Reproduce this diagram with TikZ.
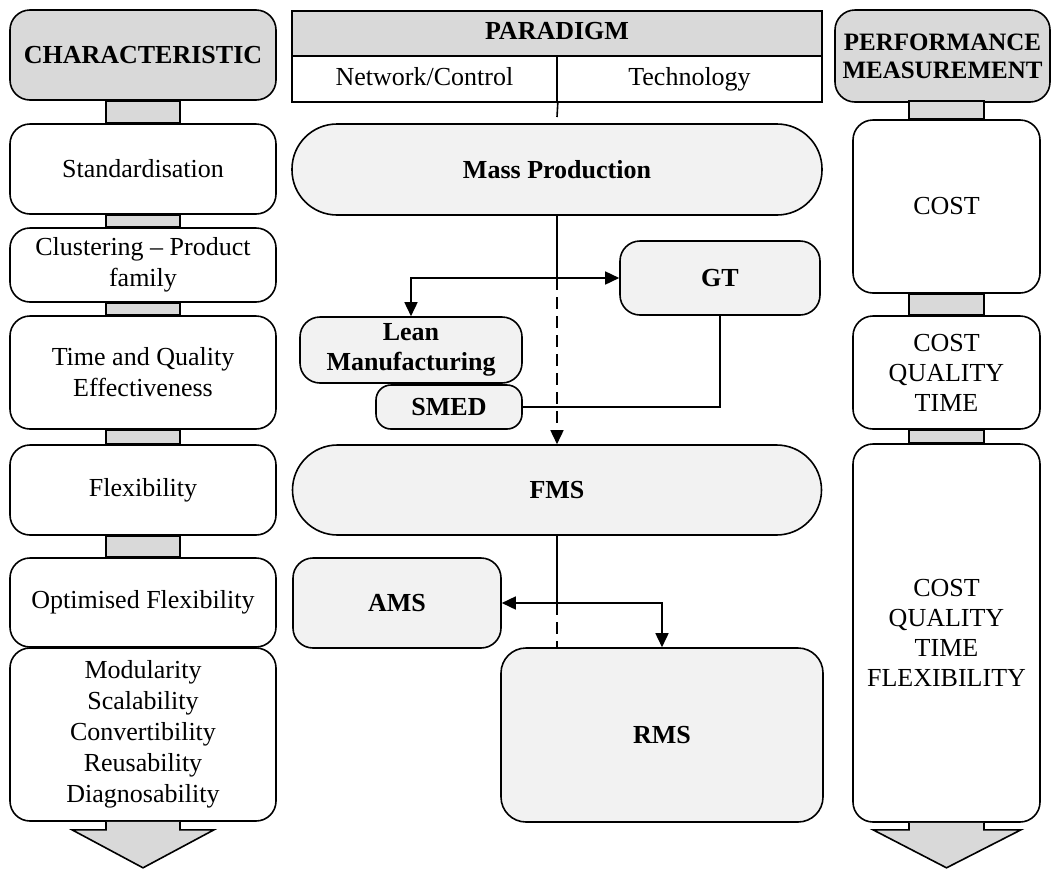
\documentclass[tikz,border=0pt]{standalone}
\usepackage{fontspec}
\setmainfont{Liberation Serif}
\usetikzlibrary{arrows.meta,calc}
\definecolor{Header}{RGB}{217,217,217}
\definecolor{Paradigm}{RGB}{242,242,242}

\tikzset{
    box/.style={draw, line width=1.6pt, rounded corners=20pt, align=center, inner sep=0pt,
        font=\fontsize{26}{31}\selectfont},
    headbox/.style={box, fill=Header, font=\bfseries\fontsize{26}{28}\selectfont},
    charbox/.style={box, fill=white, minimum width=266pt},
    perfbox/.style={box, fill=white, minimum width=187pt, font=\fontsize{26}{30}\selectfont},
    parbox/.style={box, fill=Paradigm, font=\bfseries\fontsize{26}{30}\selectfont},
    cell/.style={draw, line width=1.6pt, inner sep=0pt, text height=18pt, text depth=6pt,
        font=\fontsize{26}{31}\selectfont},
    strip/.style={draw, line width=1.6pt, fill=Header},
    link/.style={line width=1.6pt},
    gap/.style={dash pattern=on 12pt off 7pt},
    tip/.style={-{Triangle[length=14pt,width=13pt]}},
    tips/.style={{Triangle[length=14pt,width=13pt]}-{Triangle[length=14pt,width=13pt]}}
}

\begin{document}
\begin{tikzpicture}[x=1pt,y=-1pt]
    %% Background
    \fill[white] (0,0) rectangle (1052,868);
    \useasboundingbox (0,0) rectangle (1052,868);

    %% Characteristic column
    \node[headbox, minimum width=266pt, minimum height=90pt] (char) at (143,55) {CHARACTERISTIC};
    \node[charbox, minimum height=90pt] (std) at (143,169) {Standardisation};
    \node[charbox, minimum height=74pt] (clu) at (143,265) {Clustering -- Product\\family};
    \node[charbox, minimum height=113pt] (tq) at (143,372.5) {Time and Quality\\Effectiveness};
    \node[charbox, minimum height=90pt] (flex) at (143,490) {Flexibility};
    \node[charbox, minimum height=89pt] (opt) at (143,602.5) {Optimised Flexibility};
    \node[charbox, minimum height=173pt] (mod) at (143,734.5)
        {Modularity\\Scalability\\Convertibility\\Reusability\\Diagnosability};

    \foreach \a/\b in {char/std, std/clu, clu/tq, tq/flex, flex/opt}
    {
        \draw[strip] ($(\a.south)+(-37,0)$) rectangle ($(\b.north)+(37,0)$);
    }
    \draw[strip] ($(mod.south)+(-37,0)$) -- ++(0,8) -- ++(-34,0) -- ($(mod.south)+(0,46)$)
        -- ($(mod.south)+(71,8)$) -- ($(mod.south)+(37,8)$) -- ($(mod.south)+(37,0)$);

    %% Paradigm table
    \node[cell, fill=Header, minimum width=530pt, minimum height=45pt, font=\bfseries\fontsize{26}{31}\selectfont]
        (par) at (557,33.5) {PARADIGM};
    \node[cell, minimum width=265pt, minimum height=46pt] (net) at (424.5,79) {Network/Control};
    \node[cell, minimum width=265pt, minimum height=46pt] (tech) at (689.5,79) {Technology};
    \coordinate (stub) at (557,117);
    \draw[link] (net.south east) to (stub);

    %% Paradigms
    \node[parbox, rounded corners=45pt, minimum width=530pt, minimum height=91pt] (mass) at (557,169.5) {Mass Production};
    \node[parbox, minimum width=200pt, minimum height=74pt] (gt) at (720,278) {GT};
    \node[parbox, minimum width=222pt, minimum height=66pt] (lean) at (411,350) {Lean\\Manufacturing};
    \node[parbox, rounded corners=15pt, minimum width=146pt, minimum height=44pt] (smed) at (449,407) {SMED};
    \node[parbox, rounded corners=45pt, minimum width=529pt, minimum height=90pt] (fms) at (557,490) {FMS};
    \node[parbox, minimum width=208pt, minimum height=90pt] (ams) at (397,603) {AMS};
    \node[parbox, rounded corners=25pt, minimum width=322pt, minimum height=174pt] (rms) at (662,735) {RMS};

    %% Links
    \coordinate (split1) at (mass.south |- gt.west);
    \coordinate (split2) at (fms.south |- ams.east);
    \draw[link] (mass.south) to (split1);
    \draw[link, gap, tip] (split1) to (split1 |- fms.north);
    \draw[link, tips] (lean.north) |- (gt.west);
    \draw[link] (smed.east) -| (gt.south);
    \draw[link] (fms.south) to (split2);
    \draw[link, gap] (split2) to (split2 |- rms.north);
    \draw[link, tips] (ams.east) -| (rms.north);

    %% Performance measurement column
    \node[headbox, minimum width=215pt, minimum height=92pt, font=\bfseries\fontsize{25}{28}\selectfont]
        (perf) at (942.5,56) {PERFORMANCE\\MEASUREMENT};
    \node[perfbox, minimum height=173pt] (cost) at (946.5,206.5) {COST};
    \node[perfbox, minimum height=113pt] (cqt) at (946.5,372.5) {COST\\QUALITY\\TIME};
    \node[perfbox, minimum height=378pt] (cqtf) at (946.5,633) {COST\\QUALITY\\TIME\\FLEXIBILITY};

    \draw[strip] ($(cost.north)+(-37.5,-18)$) rectangle ($(cost.north)+(37.5,0)$);
    \foreach \a/\b in {cost/cqt, cqt/cqtf}
    {
        \draw[strip] ($(\a.south)+(-37.5,0)$) rectangle ($(\b.north)+(37.5,0)$);
    }
    \draw[strip] ($(cqtf.south)+(-37.5,0)$) -- ++(0,7) -- ++(-36,0) -- ($(cqtf.south)+(0,45)$)
        -- ($(cqtf.south)+(74.5,7)$) -- ($(cqtf.south)+(37.5,7)$) -- ($(cqtf.south)+(37.5,0)$);
\end{tikzpicture}
\end{document}
